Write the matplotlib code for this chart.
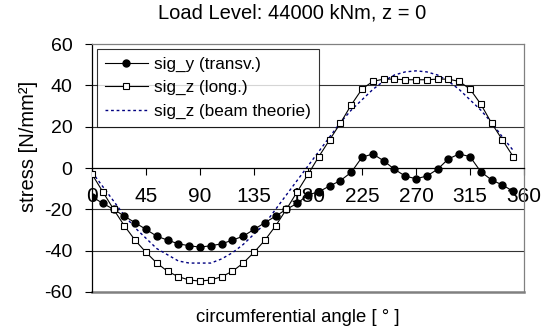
import matplotlib
matplotlib.use('Agg')
import matplotlib.pyplot as plt

plt.rcParams['font.family'] = ['Liberation Sans', 'DejaVu Sans']
plt.rcParams['axes.unicode_minus'] = False

# circumferential angle in degrees, every 9 deg
angle = [0, 9, 18, 27, 36, 45, 54, 63, 72, 81, 90, 99, 108, 117, 126, 135, 144, 153, 162, 171,
         180, 189, 198, 207, 216, 225, 234, 243, 252, 261, 270, 279, 288, 297, 306, 315, 324, 333, 342, 351]

sig_y = [-13.9, -17.1, -20.0, -23.3, -26.5, -29.7, -33.0, -34.9, -36.7, -37.6, -38.3, -37.6, -36.7, -34.9,
         -33.0, -29.7, -26.5, -23.3, -20.0, -17.1, -13.0, -11.5, -8.7, -6.1, -2.1, 5.2, 6.8, 3.5, -0.6,
         -3.9, -5.2, -3.9, -0.6, 4.4, 6.8, 5.5, -1.8, -5.8, -8.2, -11.3]

sig_z = [-3.0, -11.5, -20.0, -28.0, -35.0, -40.8, -46.0, -50.0, -52.6, -54.2, -54.7, -54.2, -52.6, -50.0,
         -46.0, -40.8, -35.0, -28.0, -20.0, -11.5, -3.1, 5.5, 13.6, 21.7, 30.5, 38.2, 41.9, 43.0, 43.0,
         42.7, 42.7, 42.7, 43.0, 43.0, 41.9, 38.2, 30.9, 21.7, 13.6, 5.5]

sig_z_beam = [-2, -9, -16, -23, -29, -34, -39, -42, -45, -46, -46, -46, -44, -41, -37, -32, -27, -20,
              -13, -6, 1, 8, 15, 22, 28, 33, 38, 42, 45, 46.5, 47, 46.5, 45, 42, 38, 33, 28, 22, 15, 8.5]

fig = plt.figure(figsize=(5.43, 3.32), dpi=100)
ax = fig.add_axes([92 / 543, 40 / 332, 432 / 543, 248 / 332])

for v in [-40, -20, 20, 40]:
    ax.axhline(v, color='#333333', lw=0.8, zorder=1)

ax.plot(angle, sig_y, color='black', lw=0.8, marker='o', ms=5, mfc='black', mec='black',
        label='sig_y (transv.)', zorder=3)
ax.plot(angle, sig_z, color='black', lw=0.8, marker='s', ms=5, mfc='white', mec='black',
        mew=0.8, label='sig_z (long.)', zorder=3)
ax.plot(angle, sig_z_beam, color='#000080', lw=1.0, ls=(0, (2, 2)),
        label='sig_z (beam theorie)', zorder=2)

ax.set_xlim(0, 360)
ax.set_ylim(-60, 60)
ax.set_xticks(range(0, 361, 45))
ax.set_yticks(range(-60, 61, 20))

ax.spines['bottom'].set_position(('data', 0))
ax.spines['bottom'].set_color('black')
ax.spines['left'].set_color('black')
ax.spines['top'].set_color('#808080')
ax.spines['right'].set_color('#808080')
for s in ax.spines.values():
    s.set_linewidth(0.9)
# gray border along the bottom of the plot area
ax.axhline(-60, color='#808080', lw=1.8, zorder=1, clip_on=False)

ax.tick_params(axis='x', direction='out', length=5, width=0.8, pad=9, labelsize=15)
ax.tick_params(axis='y', direction='out', length=5, width=0.8, pad=9, labelsize=14)

leg = ax.legend(loc='upper left', bbox_to_anchor=(0.012, 0.980), fontsize=12.3, frameon=True,
                fancybox=False, handlelength=2.5, borderaxespad=0, labelspacing=0.5,
                handletextpad=0.4, borderpad=0.45)
leg.get_frame().set_edgecolor('black')
leg.get_frame().set_linewidth(0.8)

fig.text(0.538, 1 - 13 / 332, 'Load Level: 44000 kNm, z = 0', ha='center', va='center', fontsize=14.5)
fig.text(298 / 543, 1 - 317 / 332, 'circumferential angle [ ° ]', ha='center', va='center', fontsize=13.3)
fig.text(28 / 543, 1 - 146 / 332, 'stress [N/mm²]', ha='center', va='center', fontsize=14.5, rotation=90)

fig.savefig('out.png', dpi=100)
